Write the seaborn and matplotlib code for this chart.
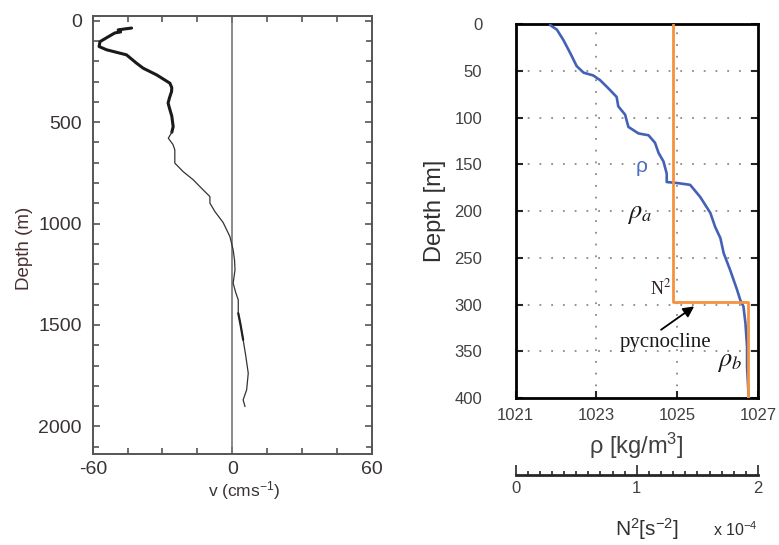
import numpy as np
import pandas as pd
import matplotlib
matplotlib.use("Agg")
import matplotlib.pyplot as plt
from matplotlib.ticker import MultipleLocator
import seaborn as sns

# velocity profile (left panel)
vel_depth = [36, 40, 45, 55, 60, 80, 103, 127, 143, 168, 209, 234, 267, 308, 330,
             349, 380, 406, 439, 470, 497, 522, 550, 579, 610, 637, 702, 744, 784,
             834, 867, 899, 940, 995, 1064, 1130, 1180, 1228, 1294, 1340, 1376,
             1442, 1500, 1573, 1650, 1738, 1820, 1869, 1902]
vel_v = [-43.3, -46.0, -49.1, -48.0, -50.5, -53.5, -56.9, -57.3, -54.1, -45.5,
         -41.2, -38.3, -32.5, -26.8, -26.0, -26.1, -27.0, -27.6, -26.8, -26.0,
         -25.7, -25.4, -26.0, -27.5, -25.5, -24.7, -24.7, -21.1, -16.8, -12.5,
         -9.6, -9.6, -7.5, -3.9, -1.0, 0.4, 1.0, 1.2, 0.4, 1.5, 2.6, 2.6, 3.6,
         4.7, 5.8, 6.9, 6.2, 4.7, 5.5]

# density profile (right panel)
rho_depth = [1, 6, 17, 31, 45, 52, 55, 60, 69, 78, 88, 97, 110, 117, 119, 127, 138,
             147, 160, 169, 170, 172, 185, 202, 217, 229, 245, 263, 284, 295, 302,
             320, 345, 367, 399]
rho_vals = [1021.85, 1022.02, 1022.18, 1022.35, 1022.51, 1022.68, 1022.92, 1023.09,
            1023.30, 1023.50, 1023.54, 1023.71, 1023.79, 1024.04, 1024.29, 1024.45,
            1024.54, 1024.66, 1024.74, 1024.74, 1024.99, 1025.32, 1025.57, 1025.82,
            1025.94, 1026.07, 1026.15, 1026.31, 1026.48, 1026.56, 1026.64, 1026.69,
            1026.73, 1026.73, 1026.77]

# two-layer N^2 profile (x 1e-4 s^-2)
n2_upper = 1.30
n2_lower = 1.92
pycno_depth = 297
max_depth = 400

sns.set_style("ticks")
plt.rcParams["font.family"] = ["Liberation Sans", "DejaVu Sans"]
plt.rcParams["mathtext.fontset"] = "custom"
plt.rcParams["mathtext.rm"] = "Liberation Sans"
plt.rcParams["mathtext.it"] = "Liberation Sans:italic"
plt.rcParams["axes.unicode_minus"] = False

fig = plt.figure(figsize=(7.79, 5.45), dpi=100)

# ---------------- left panel ----------------
ax1 = fig.add_axes([0.1191, 0.1670, 0.3580, 0.8031])
vel = pd.DataFrame({"depth": vel_depth, "v": vel_v})
upper = vel[vel["depth"] <= 550]
lower = vel[vel["depth"] >= 550]
mid = vel[(vel["depth"] >= 1440) & (vel["depth"] <= 1580)]
ax1.axvline(0, color="#777777", lw=1.2, zorder=1)
sns.lineplot(data=upper, x="v", y="depth", sort=False, estimator=None,
             color="#1a1a1a", lw=2.2, ax=ax1)
sns.lineplot(data=lower, x="v", y="depth", sort=False, estimator=None,
             color="#333333", lw=0.9, ax=ax1)
sns.lineplot(data=mid, x="v", y="depth", sort=False, estimator=None,
             color="#222222", lw=1.6, ax=ax1)
ax1.set_xlim(-60, 60)
ax1.set_ylim(2136, -22)
ax1.set_xticks([-60, 0, 60])
ax1.set_yticks([0, 500, 1000, 1500, 2000])
ax1.xaxis.set_minor_locator(MultipleLocator(15))
ax1.yaxis.set_minor_locator(MultipleLocator(100))
ax1.tick_params(which="both", direction="in", top=True, right=True,
                color="#555555", width=1.2, labelcolor="#3a3333")
ax1.tick_params(which="major", length=5, labelsize=14)
ax1.tick_params(which="minor", length=4)
ax1.tick_params(axis="y", pad=8)
ax1.tick_params(axis="x", pad=5)
for s in ax1.spines.values():
    s.set_color("#555555")
    s.set_linewidth(1.4)
ax1.set_xlabel(r"v (cms$^{-1}$)", fontsize=12.5, color="#3a3333")
ax1.set_ylabel("Depth (m)", fontsize=13.5, color="#4a3030")
ax1.xaxis.set_label_coords(0.542, -0.058)
ax1.yaxis.set_label_coords(-0.215, 0.47)

# ---------------- right panel ----------------
ax = fig.add_axes([0.6620, 0.2697, 0.3110, 0.6862])
grid_kw = dict(color="#8a8a8a", lw=1.3, ls=(0, (1, 5.5)), zorder=0)
for g in [1023, 1025]:
    ax.axvline(g, **grid_kw)
for g in [50, 100, 150, 200, 250, 300, 350]:
    ax.axhline(g, **grid_kw)
dens = pd.DataFrame({"depth": rho_depth, "rho": rho_vals})
sns.lineplot(data=dens, x="rho", y="depth", sort=False, estimator=None,
             color="#4461b5", lw=1.9, ax=ax, zorder=3)
ax.set_xlim(1021, 1027)
ax.set_ylim(max_depth, 0)
ax.set_xticks([1021, 1023, 1025, 1027])
ax.set_yticks(np.arange(0, 401, 50))
ax.tick_params(direction="in", top=True, right=True, length=5, width=1.5,
               labelsize=12, labelcolor="#404040")
ax.tick_params(axis="y", pad=24)
ax.tick_params(axis="x", pad=7)
for s in ax.spines.values():
    s.set_color("black")
    s.set_linewidth(2.0)
ax.set_xlabel(r"ρ [kg/m$^3$]", fontsize=17, color="#404040", labelpad=6)
ax.set_ylabel("Depth [m]", fontsize=17, color="#303030", labelpad=6)

# N^2 on a twin axis, its scale drawn as a ruler below the panel
ax2 = ax.twiny()
n2 = pd.DataFrame({"depth": [0, pycno_depth, pycno_depth, max_depth],
                   "n2": [n2_upper, n2_upper, n2_lower, n2_lower]})
sns.lineplot(data=n2, x="n2", y="depth", sort=False, estimator=None,
             color="#f5923e", lw=2.0, ax=ax2, zorder=4)
ax2.set_xlim(0, 2)
ax2.set_ylim(max_depth, 0)
ax2.xaxis.set_ticks_position("bottom")
ax2.xaxis.set_label_position("bottom")
ax2.spines["bottom"].set_position(("axes", -0.206))
for side in ["top", "left", "right"]:
    ax2.spines[side].set_visible(False)
ax2.spines["bottom"].set_linewidth(2.0)
ax2.set_xticks([0, 1, 2])
ax2.xaxis.set_minor_locator(MultipleLocator(0.1))
ax2.tick_params(which="both", direction="in", width=1.2, labelsize=12,
                labelcolor="#404040", pad=4)
ax2.tick_params(which="major", length=7)
ax2.tick_params(which="minor", length=3)
ax2.set_xlabel(r"N$^2$[s$^{-2}$]", fontsize=15, color="#303030")
ax2.xaxis.set_label_coords(0.54, -0.315)
ax2.text(0.815, -0.352, r"x 10$^{-4}$", transform=ax2.transAxes, fontsize=11.5,
         color="#303030", va="center", ha="left")

# annotations
ax.text(1024.12, 152, "ρ", color="#4a6fc0", fontsize=15, ha="center", va="center")
ax.text(1024.08, 203, r"$\rho_a$", fontsize=19, math_fontfamily="stix",
        ha="center", va="center", color="#1a1a1a")
ax.text(1026.3, 362, r"$\rho_b$", fontsize=19, math_fontfamily="stix",
        ha="center", va="center", color="#1a1a1a")
ax.text(1024.85, 283, r"N$^2$", fontsize=13, family="Liberation Serif",
        math_fontfamily="stix", ha="right", va="center", color="#302020")
ax.text(1024.7, 341, "pycnocline", fontsize=15, family="Liberation Serif",
        ha="center", va="center", color="#1a1a1a")
ax.annotate("", xy=(1025.42, 302), xytext=(1024.6, 327),
            arrowprops=dict(arrowstyle="-|>", color="black", lw=1.3,
                            mutation_scale=16, shrinkA=0, shrinkB=0))

fig.savefig("out.png", dpi=100)
